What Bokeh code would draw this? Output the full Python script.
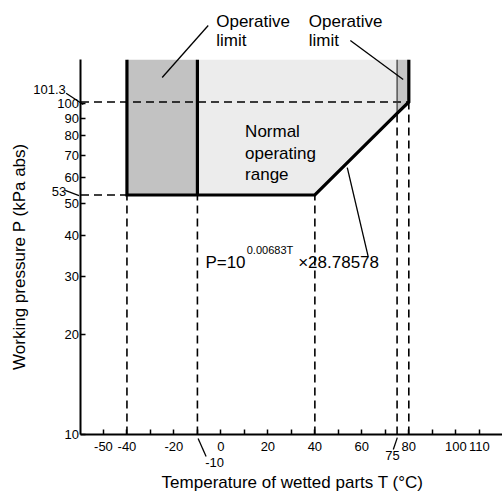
import math
from bokeh.plotting import figure
from bokeh.models import Range1d, FixedTicker, Label
from bokeh.embed import file_html
from bokeh.resources import INLINE

# ---------------- data ----------------
x_tick_values = [-50, -40, -30, -20, -10, 0, 10, 20, 30, 40, 50, 60, 70, 80, 90, 100, 110]
x_tick_text = {-50: "-50", -40: "-40", -20: "-20", 0: "0", 20: "20", 40: "40",
               60: "60", 80: "80", 100: "100", 110: "110"}
y_tick_values = [10, 20, 30, 40, 50, 60, 70, 80, 90, 100]

T_axis = -59.56        # temperature where the pressure axis stands
P_top = 136.0          # top of the pressure axis
P_min = 10.0

# operative limit (cold side)
cold_T = [-40, -40, -10, -10]
cold_P = [53, P_top, P_top, 53]
# normal operating range
normal_T = [-10, 40, 75, 75, -10]
normal_P = [53, 53, 93.6, P_top, P_top]
# operative limit (hot side)
hot_T = [75, 80, 80, 75]
hot_P = [93.6, 101.3, P_top, P_top]
# boundary: P=10^(0.00683T) x 28.78578 between 40 and 80 degC
bound_T = [-40, -40, 40, 75, 80, 80]
bound_P = [P_top, 53, 53, 93.6, 101.3, P_top]
divider_T = [-10, -10]
divider_P = [53, P_top]
edge75_T = [75, 75]
edge75_P = [93.6, P_top]
# reference (dashed) lines
vref_T = [-40, -10, 40, 75, 80]
vref_P = [53, 53, 53, 93.6, 101.3]
href_P = [101.3, 53]
href_T_end = [80, -40]

# canvas extent in data units (whole canvas is the plotting frame)
x_lo, x_hi = -93.83, 119.88
y_lo, y_hi = 6.318, 205.3
PX_PER_DECADE = 500.0 / math.log10(y_hi / y_lo)

p = figure(width=502, height=500, y_axis_type="log",
           x_range=Range1d(x_lo, x_hi), y_range=Range1d(y_lo, y_hi),
           output_backend="svg", toolbar_location=None, min_border=0)
p.outline_line_color = None
p.xgrid.visible = False
p.ygrid.visible = False
p.background_fill_color = "white"

# shaded areas
p.patch(cold_T, cold_P, fill_color="#c2c2c2", line_color=None)
p.patch(normal_T, normal_P, fill_color="#ececec", line_color=None)
p.patch(hot_T, hot_P, fill_color="#c6c6c6", line_color=None)

# dashed reference lines
p.multi_line(xs=[[t, t] for t in vref_T], ys=[[P_min, v] for v in vref_P],
             line_color="black", line_width=1.6, line_dash="8 5")
p.multi_line(xs=[[T_axis, e] for e in href_T_end], ys=[[v, v] for v in href_P],
             line_color="black", line_width=1.6, line_dash="8 5")

# boundaries
p.line(edge75_T, edge75_P, line_color="#333333", line_width=1.2)
p.line(bound_T, bound_P, line_color="black", line_width=3.2, line_join="miter")
p.line(divider_T, divider_P, line_color="black", line_width=3.2)

# axes
FONT = "Liberation Sans"
for ax in (p.xaxis[0], p.yaxis[0]):
    ax.axis_line_width = 2
    ax.axis_line_color = "black"
    ax.major_tick_in = 5
    ax.major_tick_out = 0
    ax.major_tick_line_width = 1.5
    ax.minor_tick_line_color = None
    ax.major_label_text_font = FONT
    ax.major_label_text_font_size = "13px"
    ax.major_label_text_color = "black"

p.xaxis.fixed_location = P_min
p.xaxis.bounds = (T_axis, x_hi)
p.xaxis.ticker = FixedTicker(ticks=x_tick_values)
p.xaxis.major_label_overrides = {t: x_tick_text.get(t, "") for t in x_tick_values}
p.xaxis.major_label_standoff = 7

p.yaxis.fixed_location = T_axis
p.yaxis.bounds = (P_min, P_top)
p.yaxis.ticker = FixedTicker(ticks=y_tick_values)
p.yaxis.major_label_overrides = {t: str(t) for t in y_tick_values}
p.yaxis.major_label_standoff = 2

# ---------------- annotations ----------------
def lab(x, y, text, size="17px", align="left", baseline="alphabetic", angle=0.0, lift=6.0):
    y_adj = y * 10 ** (lift / PX_PER_DECADE)
    p.add_layout(Label(x=x, y=y_adj, text=text, text_font=FONT, text_font_size=size,
                       text_baseline=baseline, text_align=align, text_color="black",
                       angle=angle))

lead_x0, lead_y0, lead_x1, lead_y1 = [], [], [], []
def leader(x0, y0, x1, y1):
    lead_x0.append(x0); lead_y0.append(y0); lead_x1.append(x1); lead_y1.append(y1)

# axis titles
lab(30.5, 6.915, "Temperature of wetted parts T (°C)", align="center", lift=5)
lab(-85.7, 34.5, "Working pressure P (kPa abs)", align="center", baseline="middle",
    angle=math.pi / 2, lift=0)

lab(-2.0, 170.1, "Operative")
lab(-2.0, 149.1, "limit")
leader(-5.4, 172.5, -25.0, 120.1)

lab(37.4, 170.1, "Operative")
lab(37.4, 149.1, "limit")
leader(55.1, 155.4, 77.6, 118.4)

lab(10.3, 79.1, "Normal")
lab(10.3, 67.9, "operating")
lab(10.3, 58.6, "range")

lab(-6.6, 31.8, "P=10")
lab(11.0, 35.2, "0.00683T", size="11px", lift=4)
lab(32.9, 31.8, "×28.78578")
leader(53.8, 64.1, 62.7, 34.5)

lab(-79.9, 107.4, "101.3", size="13px", lift=4.5)
leader(-65.9, 107.6, -58.6, 99.5)
lab(-72.0, 52.8, "53", size="13px", lift=4.5)
leader(-66.3, 54.7, -60.4, 52.8)
lab(-6.7, 7.95, "-10", size="13px", lift=4.5)
leader(-9.7, 9.73, -6.3, 8.58)
lab(70.0, 8.35, "75", size="13px", lift=4.5)
leader(75.1, 9.79, 73.4, 9.01)

p.segment(x0=lead_x0, y0=lead_y0, x1=lead_x1, y1=lead_y1,
          line_color="black", line_width=1.3)

open("out.html", "w").write(file_html(p, INLINE))
